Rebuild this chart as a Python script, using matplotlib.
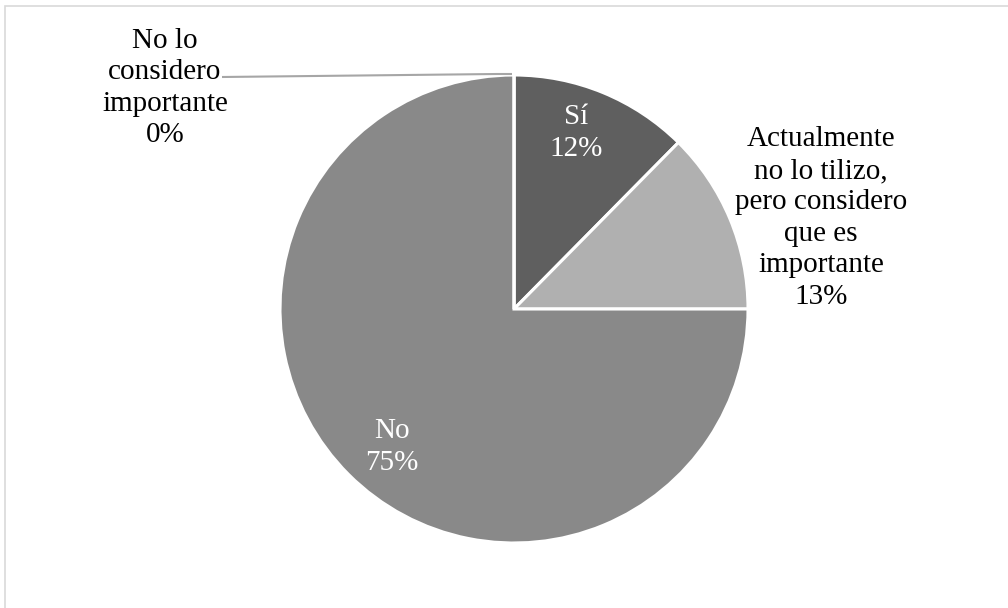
import matplotlib
matplotlib.use("Agg")
import matplotlib.pyplot as plt
from matplotlib.patches import Rectangle

# Survey answers (share of respondents, %)
categories = ["Sí", "Actualmente\nno lo tilizo,\npero considero\nque es\nimportante", "No", "No lo\nconsidero\nimportante"]
values = [12.4, 12.6, 75.0, 0.0]
colors = ["#5f5f5f", "#b0b0b0", "#898989", "#a0a0a0"]

W, H = 1008, 608
fig = plt.figure(figsize=(W / 100, H / 100), dpi=100)
ax = fig.add_axes([0, 0, 1, 1])

plt.rcParams["font.family"] = ["Liberation Serif"]

cx, cy, r = 514, H - 309, 234
wedges, _ = ax.pie(values, colors=colors, startangle=90, counterclock=False,
                   center=(cx, cy), radius=r, frame=True,
                   wedgeprops=dict(edgecolor="white", linewidth=2.2))
ax.set_xlim(0, W)
ax.set_ylim(0, H)
ax.set_aspect("equal")
ax.axis("off")

def pct(v):
    return f"{round(v)}%"

# label positions in pixel coordinates (from top-left)
label_pos = [(576, 133, "white"), (821, 218, "black"), (392, 447, "white"), (165, 88, "black")]
for cat, v, (x, y, c) in zip(categories, values, label_pos):
    ax.text(x, H - y, f"{cat}\n{pct(v)}", ha="center", va="center", fontsize=21,
            color=c, linespacing=1.27, family="Liberation Serif")

# leader line for the zero-share slice
ax.plot([222, 497, 512], [H - 77, H - 74, H - 74], color="#a6a6a6", lw=1.5,
        solid_capstyle="butt")

# chart area border
fig.patches.append(Rectangle((5 / W, -0.1), 1.2, (H - 6) / H + 0.1, transform=fig.transFigure,
                             fill=False, edgecolor="#d9d9d9", lw=1.2))

fig.savefig("out.png", dpi=100)
